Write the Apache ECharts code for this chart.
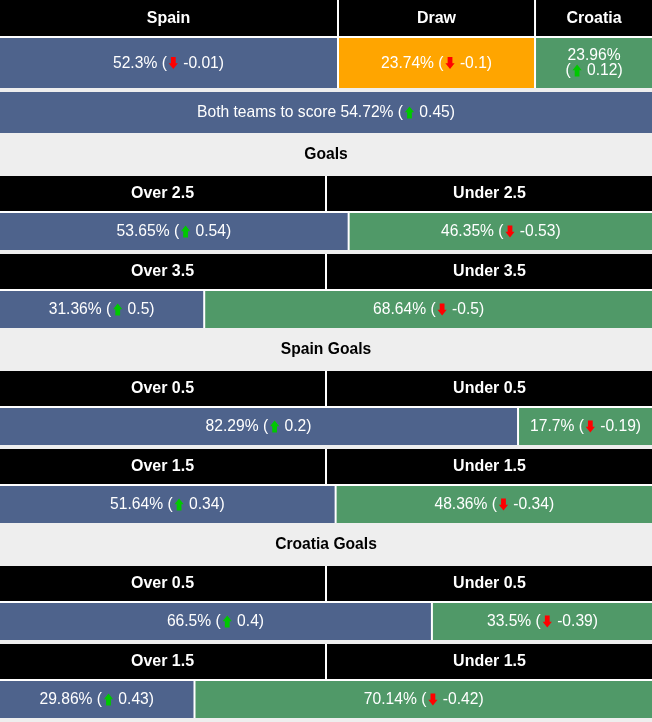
<!DOCTYPE html>
<html><head><meta charset="utf-8">
<script src="https://cdn.jsdelivr.net/npm/echarts@6/dist/echarts.min.js"></script>
<style>html,body{margin:0;padding:0;background:#eeeeee}#chart{width:652px;height:722px}</style>
</head><body><div id="chart"></div>
<script>
// ---- data ----
const teams = ['Spain', 'Draw', 'Croatia'];
const matchValues = [52.3, 23.74, 23.96];
const matchChanges = [-0.01, -0.1, 0.12];
const bttsLabel = 'Both teams to score';
const bttsValue = 54.72;
const bttsChange = 0.45;
const sectionTitles = ['Goals', 'Spain Goals', 'Croatia Goals'];
const goalLines = ['2.5', '3.5', '0.5', '1.5', '0.5', '1.5'];
const overValues = [53.65, 31.36, 82.29, 51.64, 66.5, 29.86];
const overChanges = [0.54, 0.5, 0.2, 0.34, 0.4, 0.43];
const underValues = [46.35, 68.64, 17.7, 48.36, 33.5, 70.14];
const underChanges = [-0.53, -0.5, -0.19, -0.34, -0.39, -0.42];

// ---- layout / style ----
const W = 652, H = 722;
const BLUE = '#4e638c', GREEN = '#509968', ORANGE = '#ffa500', BLACK = '#000000', WHITE = '#ffffff';
const FONT = "'Liberation Sans', Arial, sans-serif";
const matchColEdges = [0, 51.84, 82.06, 100];
const matchColors = [BLUE, ORANGE, GREEN];
const ouScale = 648 / 652;
const splitMin = 20.7, splitMax = 79.3;

function svgUrl(points, color) {
  const s = '<svg xmlns="http://www.w3.org/2000/svg" width="26" height="26" viewBox="0 0 13 13"><polygon points="' + points + '" fill="' + color + '"/></svg>';
  return 'data:image/svg+xml;charset=utf-8,' + encodeURIComponent(s);
}
const upImg = svgUrl('7,0.5 12,6.3 9.6,6.3 9.6,12.5 4.4,12.5 4.4,6.3 2,6.3', '#00c800');
const downImg = svgUrl('4.4,0.5 9.6,0.5 9.6,6.7 12,6.7 7,12.5 2,6.7 4.4,6.7', '#ff0000');

function fmt(v, ch, wrap) {
  const arrow = ch > 0 ? '{up|}' : '{down|}';
  return v + '%' + (wrap ? '\n' : ' ') + '(' + arrow + ' ' + ch + ')';
}

const styles = {
  header: { fill: WHITE, fontWeight: 'bold', fontSize: 17, sx: 0.94 },
  value: { fill: WHITE, fontWeight: 'normal', fontSize: 17, sx: 0.92 },
  title: { fill: '#000000', fontWeight: 'bold', fontSize: 17, sx: 0.92 }
};

const cells = [];
// 1X2 block
cells.push({ x0: 0, x1: 100, y0: 0, y1: 88, fill: WHITE });
teams.forEach((t, i) => {
  const gl = i > 0 ? 1 : 0, gr = i < 2 ? 1 : 0;
  cells.push({ x0: matchColEdges[i], x1: matchColEdges[i + 1], y0: 0, y1: 36, gl, gr, fill: BLACK, text: t, st: 'header' });
  cells.push({ x0: matchColEdges[i], x1: matchColEdges[i + 1], y0: 38, y1: 88, gl, gr, fill: matchColors[i],
    text: fmt(matchValues[i], matchChanges[i], i === 2), st: 'value' });
});
// BTTS
cells.push({ x0: 0, x1: 100, y0: 92, y1: 133, fill: BLUE, text: bttsLabel + ' ' + fmt(bttsValue, bttsChange, false), st: 'value' });

// sections
const sectionStarts = [133, 328, 523];
sectionTitles.forEach((title, s) => {
  const S = sectionStarts[s];
  cells.push({ x0: 0, x1: 100, y0: S, y1: S + 43, text: title, st: 'title' });
  [0, 1].forEach(k => {
    const idx = s * 2 + k;
    const hy = S + 43 + k * 78;
    cells.push({ x0: 0, x1: 100, y0: hy, y1: hy + 74, fill: WHITE });
    cells.push({ x0: 0, x1: 50, y0: hy, y1: hy + 35, gr: 1, fill: BLACK, text: 'Over ' + goalLines[idx], st: 'header' });
    cells.push({ x0: 50, x1: 100, y0: hy, y1: hy + 35, gl: 1, fill: BLACK, text: 'Under ' + goalLines[idx], st: 'header' });
    const split = Math.min(splitMax, Math.max(splitMin, overValues[idx] * ouScale));
    cells.push({ x0: 0, x1: split, y0: hy + 37, y1: hy + 74, fill: BLUE, text: fmt(overValues[idx], overChanges[idx], false), st: 'value' });
    cells.push({ x0: split, x1: 100, y0: hy + 37, y1: hy + 74, gl: 2, fill: GREEN, text: fmt(underValues[idx], underChanges[idx], false), st: 'value' });
  });
});

function renderItem(params, api) {
  const c = cells[params.dataIndex];
  const p0 = api.coord([c.x0, c.y0]);
  const p1 = api.coord([c.x1, c.y1]);
  const x = p0[0] + (c.gl || 0);
  const w = p1[0] - (c.gr || 0) - x;
  const y = p0[1], h = p1[1] - p0[1];
  const children = [];
  if (c.fill) children.push({ type: 'rect', shape: { x, y, width: w, height: h }, style: { fill: c.fill } });
  if (c.text) {
    const st = styles[c.st];
    children.push({
      type: 'text', x: x + w / 2, y: y + h / 2, scaleX: st.sx,
      style: {
        text: c.text, fill: st.fill, fontFamily: FONT, fontSize: st.fontSize, fontWeight: st.fontWeight,
        align: 'center', verticalAlign: 'middle', lineHeight: 15,
        rich: {
          up: { width: 13, height: 13, lineHeight: 15, backgroundColor: { image: upImg } },
          down: { width: 13, height: 13, lineHeight: 15, backgroundColor: { image: downImg } }
        }
      }
    });
  }
  return { type: 'group', children };
}

const chart = echarts.init(document.getElementById('chart'), null, { renderer: 'canvas' });
chart.setOption({
  animation: false,
  backgroundColor: '#eeeeee',
  grid: { left: 0, right: 0, top: 0, bottom: 0 },
  xAxis: { type: 'value', min: 0, max: 100, show: false },
  yAxis: { type: 'value', min: 0, max: H, inverse: true, show: false },
  series: [{
    type: 'custom', renderItem, silent: true, clip: false,
    encode: { x: [0, 1], y: [2, 3] },
    data: cells.map(c => [c.x0, c.x1, c.y0, c.y1])
  }]
});
</script></body></html>
